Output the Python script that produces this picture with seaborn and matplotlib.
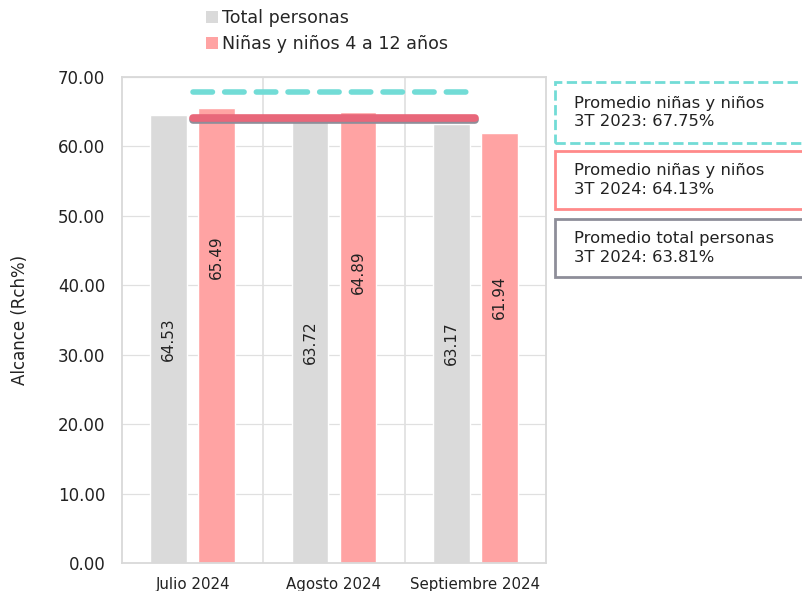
import matplotlib
matplotlib.use("Agg")
import matplotlib.pyplot as plt
from matplotlib.patches import Rectangle, Patch
import seaborn as sns
import pandas as pd

# Datos
meses = ["Julio 2024", "Agosto 2024", "Septiembre 2024"]
total_personas = [64.53, 63.72, 63.17]
ninas_ninos = [65.49, 64.89, 61.94]
series = ["Total personas", "Niñas y niños 4 a 12 años"]
prom_ninos_2023 = 67.75
prom_ninos_2024 = 64.13
prom_total_2024 = 63.81
cuadros = [
    "Promedio niñas y niños\n3T 2023: 67.75%",
    "Promedio niñas y niños\n3T 2024: 64.13%",
    "Promedio total personas\n3T 2024: 63.81%",
]
# altura relativa de las etiquetas dentro de cada barra
pos_etiquetas = [[0.5, 0.5, 0.5], [0.673, 0.645, 0.618]]

sns.set_theme(style="white")
plt.rcParams["font.family"] = ["DejaVu Sans"]

colores = {"Total personas": "#DADADA", "Niñas y niños 4 a 12 años": "#FFA3A3"}

df = pd.DataFrame({
    "Mes": meses * 2,
    "Serie": [series[0]] * 3 + [series[1]] * 3,
    "Valor": total_personas + ninas_ninos,
})

fig = plt.figure(figsize=(8.02, 5.91), dpi=100)
ax = fig.add_axes([0.152, 0.0474, 0.529, 0.8226])
ax.set_axisbelow(True)
ax.yaxis.grid(True, color="#E0E0E0", lw=0.9)

sns.barplot(data=df, x="Mes", y="Valor", hue="Serie", order=meses,
            hue_order=series, palette=colores, width=0.68, gap=0.24,
            saturation=1, legend=False, ax=ax, zorder=2)

# Etiquetas dentro de las barras
for cont, fracs in zip(ax.containers, pos_etiquetas):
    for bar, f in zip(cont, fracs):
        h = bar.get_height()
        ax.text(bar.get_x() + bar.get_width() / 2, h * f, f"{h:.2f}",
                rotation=90, ha="center", va="center", fontsize=11,
                color="#222222", zorder=6)

# Lineas de promedio
xs = list(range(len(meses)))
ax.plot(xs, [prom_total_2024] * len(xs), color="#8E8E99", lw=5.5,
        solid_capstyle="round", zorder=4)
ax.plot(xs, [prom_ninos_2024] * len(xs), color="#E8677A", lw=5.5,
        solid_capstyle="round", zorder=5)
ax.plot(xs, [prom_ninos_2023] * len(xs), color="#72DCD6", lw=4,
        linestyle=(0, (3.5, 2.2)), dash_capstyle="round", zorder=5)

ax.set_xlim(-0.5, 2.5)
ax.set_ylim(0, 70)
ax.set_yticks(range(0, 71, 10))
ax.set_yticklabels([f"{v:.2f}" for v in range(0, 71, 10)], fontsize=12,
                   color="#222222")
ax.tick_params(axis="x", labelsize=10.8, colors="#222222", pad=10, length=0)
ax.tick_params(axis="y", length=0, pad=12)
ax.set_xlabel("")
ax.set_ylabel("Alcance (Rch%)", fontsize=12, color="#222222", labelpad=21)

for v in [0.5, 1.5]:
    ax.axvline(v, color="#DCDCDC", lw=1.1, zorder=0)
for s in ax.spines.values():
    s.set_color("#D9D9D9")
    s.set_linewidth(1.3)

# Leyenda superior
handles = [Patch(facecolor=colores[s], edgecolor="none") for s in series]
fig.legend(handles, series, loc="upper left", bbox_to_anchor=(0.248, 0.996),
           frameon=False, fontsize=12.6, handlelength=0.7, handleheight=0.7,
           handletextpad=0.2, labelspacing=0.45, borderaxespad=0)

# Cuadros de promedios
W, H = 802, 591
bordes = [("#72DCD6", "--", 82, 143), ("#FF8A8A", "-", 151, 209),
          ("#8E8E99", "-", 219, 277)]
for (col, ls, y0, y1), txt in zip(bordes, cuadros):
    rect = Rectangle((555 / W, 1 - y1 / H), 260 / W, (y1 - y0) / H,
                     transform=fig.transFigure, facecolor="white",
                     edgecolor=col, lw=2, linestyle=ls, clip_on=False)
    fig.patches.append(rect)
    fig.text(574 / W, 1 - (y0 + y1) / 2 / H, txt, fontsize=11.8,
             color="#222222", va="center", ha="left", linespacing=1.3)

fig.savefig("out.png", dpi=100)
